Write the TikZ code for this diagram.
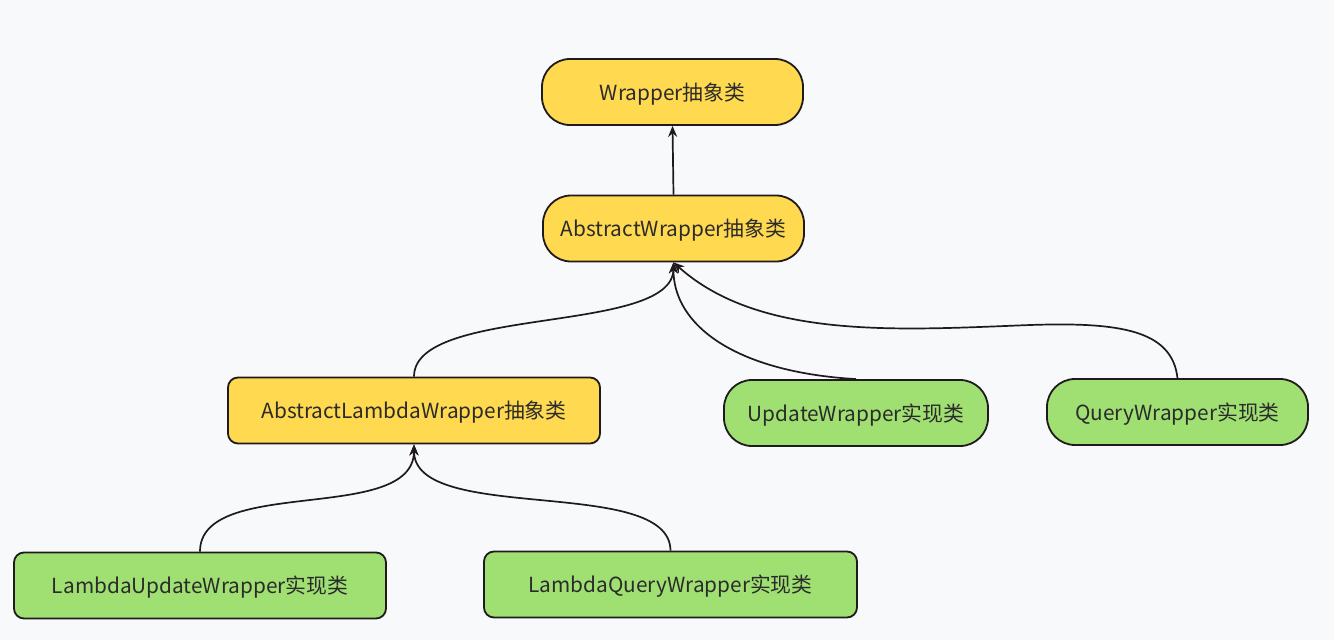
\documentclass[tikz,border=0pt]{standalone}
\usepackage{fontspec}
\setmainfont{Noto Sans CJK SC}
\usetikzlibrary{arrows.meta}
\definecolor{bg}{HTML}{F8F9FB}
\definecolor{ylw}{HTML}{FFD94F}
\definecolor{grn}{HTML}{A0E072}
\definecolor{edge}{HTML}{1E1A1D}
\definecolor{txt}{HTML}{2B2B2B}
\tikzset{
  box/.style={draw=edge, line width=1.8pt, inner sep=0pt, text=txt, font=\fontsize{20.8}{24}\selectfont, text height=17pt, text depth=1pt, minimum height=66pt},
  pill/.style={box, rounded corners=28pt},
  card/.style={box, rounded corners=10pt},
  abs/.style={fill=ylw},
  impl/.style={fill=grn},
  link/.style={draw=edge, line width=1.7pt, -{Stealth[length=11pt,width=9pt]}}
}
\begin{document}
\begin{tikzpicture}[x=1pt,y=-1pt]
\fill[bg] (0,0) rectangle (1334,640);
\useasboundingbox (0,0) rectangle (1334,640);
\node[pill,abs,minimum width=261pt] (w) at (672.5,92) {Wrapper抽象类};
\node[pill,abs,minimum width=261pt] (aw) at (673.5,228.5) {AbstractWrapper抽象类};
\node[card,abs,minimum width=372pt] (alw) at (414,410.5) {AbstractLambdaWrapper抽象类};
\node[pill,impl,minimum width=264pt] (uw) at (856,413) {UpdateWrapper实现类};
\node[pill,impl,minimum width=261pt] (qw) at (1177.5,412) {QueryWrapper实现类};
\node[card,impl,minimum width=372pt] (luw) at (200,585.5) {LambdaUpdateWrapper实现类};
\node[card,impl,minimum width=373pt] (lqw) at (670.5,584.5) {LambdaQueryWrapper实现类};
\coordinate (qmid) at (1030,325);
\draw[link] (aw.north) -- (w.south);
\draw[link] (alw.north) .. controls (414,305) and (673,335) .. (aw.south);
\draw[link] (uw.north) .. controls (735,372) and (673,325) .. (aw.south);
\draw[link] (qw.north) .. controls (1172,330) and (1120,322) .. (qmid) .. controls (900,330) and (760,340) .. (aw.south);
\draw[link] (luw.north) .. controls (200,475) and (414,525) .. (alw.south);
\draw[link] (lqw.north) .. controls (670,475) and (414,525) .. (alw.south);
\end{tikzpicture}
\end{document}
